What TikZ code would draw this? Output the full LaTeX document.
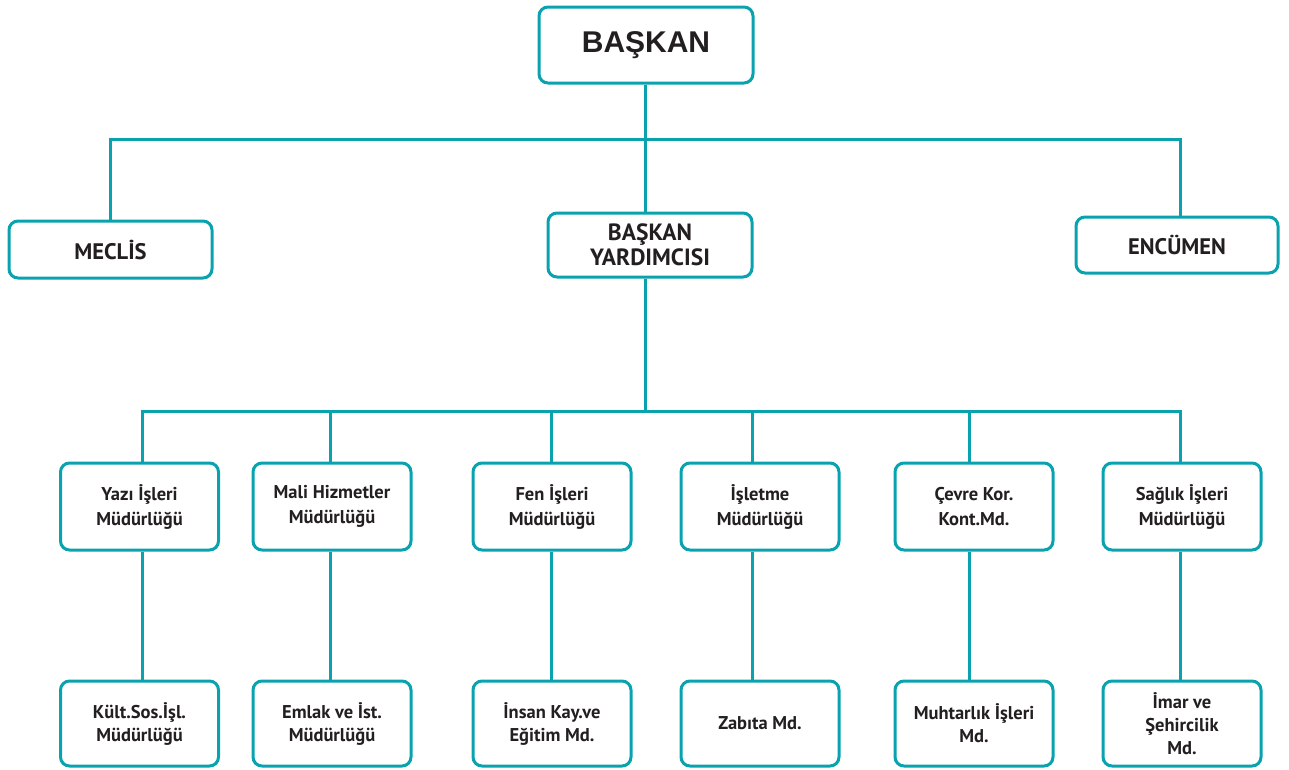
\documentclass[tikz,border=0pt]{standalone}
\usepackage{fontspec}
\setmainfont{PT Sans}
\newfontfamily\topfont{Liberation Sans}
\definecolor{teal1}{HTML}{0AA2AF}
\definecolor{txt}{HTML}{231F20}
\begin{document}
\begin{tikzpicture}[x=1pt,y=-1pt,
  box/.style={draw=teal1,line width=3pt,rounded corners=9pt,fill=white,text=txt,align=center,font=\bfseries\fontsize{18.5}{25}\selectfont,inner sep=0pt},
  link/.style={draw=teal1,line width=3pt}]
\useasboundingbox (0,0) rectangle (1289,769);
% top
\node[box,minimum width=214pt,minimum height=76pt,font=\topfont\bfseries\fontsize{30}{34}\selectfont] (bas) at (646,45) {BAŞKAN};
\node[box,minimum width=203pt,minimum height=57pt,font=\bfseries\fontsize{22.5}{24}\selectfont] (mec) at (110.5,249.5) {MECLİS};
\node[box,minimum width=204pt,minimum height=64pt,font=\bfseries\fontsize{23.5}{25}\selectfont] (yar) at (650,245) {BAŞKAN\\YARDIMCISI};
\node[box,minimum width=202pt,minimum height=56pt,font=\bfseries\fontsize{22.5}{24}\selectfont] (enc) at (1177,245) {ENCÜMEN};
% rows
\tikzset{r1/.style={box,minimum width=158pt,minimum height=87pt},
         r2/.style={box,minimum width=158pt,minimum height=85pt,font=\bfseries\fontsize{18.5}{23}\selectfont}}
\node[r1] (a1) at (139.5,506.5) {Yazı İşleri\\Müdürlüğü};
\node[r1] (b1) at (332,506.5) {Mali Hizmetler\\Müdürlüğü};
\node[r1] (c1) at (552,506.5) {Fen İşleri\\Müdürlüğü};
\node[r1] (d1) at (760,506.5) {İşletme\\Müdürlüğü};
\node[r1] (e1) at (974,506.5) {Çevre Kor.\\Kont.Md.};
\node[r1] (f1) at (1182,506.5) {Sağlık İşleri\\Müdürlüğü};
\node[r2] (a2) at (139.5,723.5) {Kült.Sos.İşl.\\Müdürlüğü};
\node[r2] (b2) at (332,723.5) {Emlak ve İst.\\Müdürlüğü};
\node[r2] (c2) at (552,723.5) {İnsan Kay.ve\\Eğitim Md.};
\node[r2] (d2) at (760,723.5) {Zabıta Md.};
\node[r2] (e2) at (974,723.5) {Muhtarlık İşleri\\Md.};
\node[r2] (f2) at (1182,723.5) {İmar ve\\Şehircilik\\Md.};
% connectors
\coordinate (h1) at (645,139);
\coordinate (h2) at (645,411);
\draw[link] (bas.south -| h1) -- (yar.north -| h1);
\draw[link] (mec.north -| 110,0) |- (h1) -| (enc.north -| 1180,0);
\draw[link] (yar.south -| h2) -- (h2);
\draw[link] (a1.north -| 142,0) |- (h2) -| (f1.north -| 1180,0);
\draw[link] (b1.north -| 330,0) -- (330,411);
\draw[link] (c1.north -| 551,0) -- (551,411);
\draw[link] (d1.north -| 752,0) -- (752,411);
\draw[link] (e1.north -| 969,0) -- (969,411);
\draw[link] (a1.south -| 142,0) -- (a2.north -| 142,0);
\draw[link] (b1.south -| 330,0) -- (b2.north -| 330,0);
\draw[link] (c1.south -| 551,0) -- (c2.north -| 551,0);
\draw[link] (d1.south -| 752,0) -- (d2.north -| 752,0);
\draw[link] (e1.south -| 969,0) -- (e2.north -| 969,0);
\draw[link] (f1.south -| 1180,0) -- (f2.north -| 1180,0);
\end{tikzpicture}
\end{document}
